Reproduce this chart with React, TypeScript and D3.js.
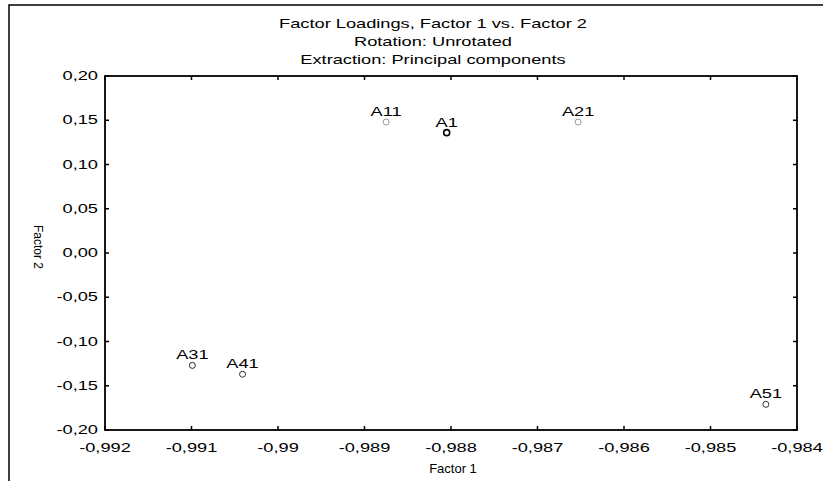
import React from 'react';
import * as d3 from 'd3';

// data
const pointLabels = ['A1', 'A11', 'A21', 'A31', 'A41', 'A51'];
const factor1 = [-0.98805, -0.98875, -0.98653, -0.99099, -0.99041, -0.98436];
const factor2 = [0.136, 0.148, 0.148, -0.127, -0.137, -0.171];
const pointStroke = ['#000', '#999', '#999', '#222', '#333', '#333'];

const xTicks = [-0.992, -0.991, -0.99, -0.989, -0.988, -0.987, -0.986, -0.985, -0.984];
const yTicks = [0.2, 0.15, 0.1, 0.05, 0, -0.05, -0.1, -0.15, -0.2];
const titleLines = ['Factor Loadings, Factor 1 vs. Factor 2', 'Rotation: Unrotated', 'Extraction: Principal components'];

const W = 823;
const H = 481;
const plot = {left: 105, top: 76, right: 797, bottom: 430};
const font = '"Liberation Sans", Arial, sans-serif';
// most of the text in the picture is stretched sideways
const SX = 1.52;

const fmtX = (v: number) => String(+v.toFixed(3)).replace('.', ',');
const fmtY = (v: number) => v.toFixed(2).replace('.', ',').replace(/^-0,00$/, '0,00');

type TProps = {x: number, y: number, anchor?: string, size?: number, children: React.ReactNode};
const WideText = ({x, y, anchor = 'middle', size = 12, children}: TProps) => (
    <text transform={`translate(${x},${y}) scale(${SX},1)`} textAnchor={anchor} fontSize={size} fill="#000">
        {children}
    </text>
);

export default function App() {
    const xScale = d3.scaleLinear().domain([-0.992, -0.984]).range([plot.left, plot.right]);
    const yScale = d3.scaleLinear().domain([-0.2, 0.2]).range([plot.bottom, plot.top]);
    const tick = 4;

    return (
        <svg width={W} height={H} style={{position: 'absolute', left: 0, top: 0, display: 'block', background: '#fff'}}
             fontFamily={font}>
            {/* outer frame, cut off at right and bottom */}
            <path d={`M9,${H} V5 H${W}`} fill="none" stroke="#000" strokeWidth={1.5}/>

            {/* title */}
            {titleLines.map((t, i) => (
                <WideText key={t} x={433} y={28 + i * 18}>{t}</WideText>
            ))}

            {/* plot box */}
            <rect x={plot.left} y={plot.top} width={plot.right - plot.left} height={plot.bottom - plot.top}
                  fill="none" stroke="#000" strokeWidth={1.8}/>

            {/* x ticks */}
            {xTicks.map((v) => {
                const x = xScale(v);
                return (
                    <g key={'x' + v}>
                        <line x1={x} x2={x} y1={plot.bottom} y2={plot.bottom - tick} stroke="#000" strokeWidth={1.5}/>
                        <line x1={x} x2={x} y1={plot.top} y2={plot.top + tick} stroke="#000" strokeWidth={1.5}/>
                        <WideText x={x} y={452}>{fmtX(v)}</WideText>
                    </g>
                );
            })}

            {/* y ticks */}
            {yTicks.map((v) => {
                const y = yScale(v);
                return (
                    <g key={'y' + v}>
                        <line x1={plot.left} x2={plot.left + tick} y1={y} y2={y} stroke="#000" strokeWidth={1.5}/>
                        <line x1={plot.right} x2={plot.right - tick} y1={y} y2={y} stroke="#000" strokeWidth={1.5}/>
                        <WideText x={98} y={y + 4} anchor="end">{fmtY(v)}</WideText>
                    </g>
                );
            })}

            {/* axis titles */}
            <text x={453} y={473} textAnchor="middle" fontSize={13}>Factor 1</text>
            <text transform={`translate(34,247) rotate(90)`} textAnchor="middle" fontSize={12}>Factor 2</text>

            {/* points */}
            {pointLabels.map((name, i) => {
                const x = xScale(factor1[i]);
                const y = yScale(factor2[i]);
                return (
                    <g key={name}>
                        <circle cx={x} cy={y} r={3} fill="#fff" stroke={pointStroke[i]} strokeWidth={i === 0 ? 1.6 : 1}/>
                        <WideText x={x} y={y - 6}>{name}</WideText>
                    </g>
                );
            })}
        </svg>
    );
}
